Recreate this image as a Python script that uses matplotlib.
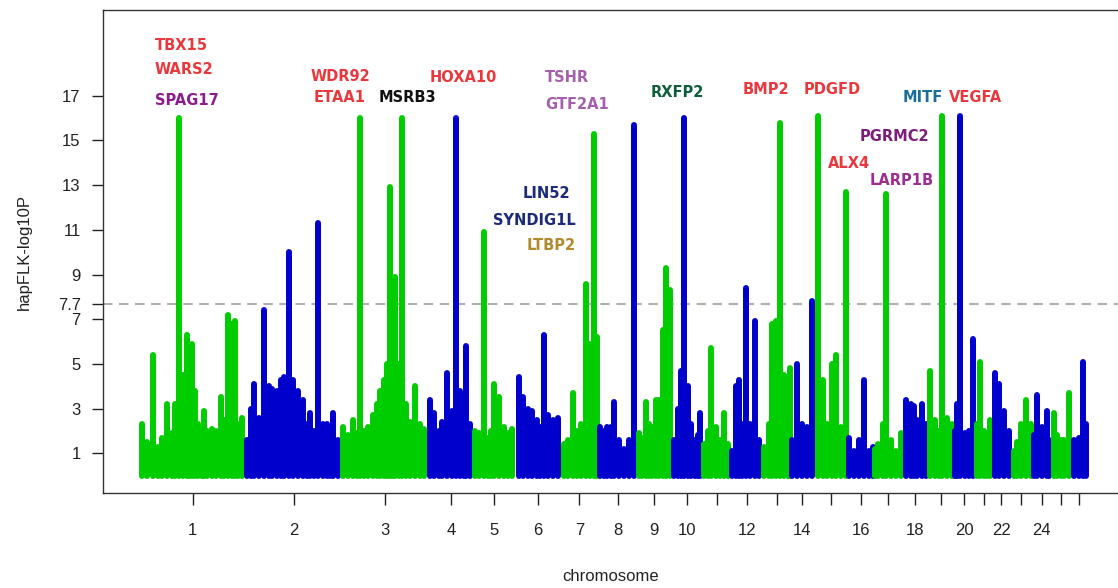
import numpy as np
import matplotlib.pyplot as plt

# chromosome sizes (Mb) as laid out along the x axis
chrom_len = [273, 252, 223, 117, 109, 117, 99, 99, 91, 80, 73, 83, 73,
             60, 88, 67, 75, 67, 65, 57, 44, 47, 57, 47, 52, 44]
chrom_names = [str(i) for i in range(1, 27)]
tick_text = ['1', '2', '3', '4', '5', '6', '7', '8', '9', '10', '', '12', '',
             '14', '', '16', '', '18', '', '20', '', '22', '', '24', '', '']

# envelope of -log10P values per chromosome: position inside chromosome (Mb) and value
peak_pos = [
    [4, 17, 33, 47, 58, 71, 82, 91, 102, 112, 121, 128, 136, 143, 151, 160, 166, 175,
     186, 197, 209, 218, 228, 238, 246, 255, 266],
    [4, 15, 23, 35, 50, 61, 69, 82, 93, 102, 115, 125, 137, 149, 160, 169, 179, 190,
     202, 212, 220, 229, 242],
    [3, 16, 29, 38, 47, 57, 68, 80, 90, 99, 107, 116, 123, 132, 138, 146, 155, 166,
     177, 190, 201, 213],
    [5, 16, 27, 37, 50, 62, 73, 83, 92, 99, 109],
    [5, 16, 27, 38, 47, 55, 66, 79, 90, 101],
    [9, 20, 32, 43, 56, 65, 75, 86, 99, 110],
    [9, 21, 33, 43, 54, 67, 76, 86, 95],
    [5, 14, 23, 33, 40, 53, 66, 79, 92],
    [6, 15, 23, 33, 41, 49, 58, 67, 75, 86],
    [6, 16, 23, 32, 41, 49, 60, 67, 74],
    [3, 13, 23, 34, 44, 55, 66],
    [4, 13, 21, 30, 39, 50, 62, 73],
    [3, 16, 25, 34, 45, 55, 65, 71],
    [4, 17, 30, 43, 56],
    [11, 23, 35, 46, 57, 70, 83],
    [3, 16, 29, 41, 55, 64],
    [3, 10, 23, 33, 44, 57, 70],
    [8, 21, 30, 38, 51, 62],
    [5, 18, 27, 36, 48, 60],
    [4, 10, 18, 31, 40, 51],
    [4, 11, 22, 29, 38],
    [6, 16, 29, 42],
    [9, 17, 26, 39, 52],
    [4, 12, 25, 38, 44],
    [9, 17, 26, 35, 47],
    [9, 22, 33, 40],
]
peak_logp = [
    [2.3, 1.5, 5.4, 1.3, 1.7, 3.2, 1.9, 3.2, 16.0, 4.5, 6.3, 4.6, 5.9, 3.8, 2.3, 1.6, 2.9, 2.0,
     2.1, 2.0, 3.5, 2.5, 7.2, 6.8, 6.9, 2.3, 2.6],
    [1.6, 3.0, 4.1, 2.6, 7.4, 4.0, 3.9, 3.8, 4.3, 4.4, 10.0, 4.3, 3.8, 3.4, 2.3, 2.8, 2.0, 11.3,
     2.3, 2.3, 2.0, 2.8, 1.6],
    [2.2, 1.8, 2.5, 1.9, 16.0, 2.0, 2.2, 2.7, 3.2, 3.8, 4.3, 5.0, 12.9, 8.0, 8.9, 5.0, 16.0, 3.2,
     2.4, 4.0, 2.3, 2.1],
    [3.4, 2.8, 2.0, 2.4, 4.6, 2.9, 16.0, 3.8, 3.5, 5.8, 2.3],
    [2.0, 1.9, 10.9, 1.7, 2.0, 4.1, 3.5, 2.2, 1.9, 2.1],
    [4.4, 3.5, 3.0, 2.9, 2.5, 2.2, 6.3, 2.7, 2.5, 2.6],
    [1.4, 1.6, 3.7, 2.0, 2.3, 8.6, 5.9, 15.3, 6.2],
    [2.2, 2.0, 2.2, 2.2, 3.3, 1.6, 1.2, 1.6, 15.7],
    [1.9, 1.7, 3.3, 2.3, 2.2, 3.4, 3.4, 6.5, 9.3, 8.3],
    [1.6, 3.0, 4.7, 16.0, 4.0, 2.3, 1.6, 1.8, 2.8],
    [1.4, 2.0, 5.7, 2.2, 1.6, 2.8, 1.4],
    [1.1, 4.0, 4.3, 2.3, 8.4, 2.3, 6.9, 1.6],
    [1.3, 2.3, 6.8, 6.9, 15.8, 4.5, 2.3, 4.8],
    [1.6, 5.0, 2.3, 2.2, 7.8],
    [16.1, 4.3, 2.3, 5.0, 5.4, 2.2, 12.7],
    [1.7, 1.1, 1.6, 4.3, 1.1, 1.3],
    [1.2, 1.4, 2.3, 12.6, 1.6, 1.1, 1.9],
    [3.4, 3.2, 3.1, 2.5, 3.2, 2.3],
    [4.7, 2.5, 2.0, 16.1, 2.6, 2.3],
    [2.0, 3.2, 16.1, 1.9, 2.0, 6.1],
    [2.3, 5.1, 2.0, 1.8, 2.5],
    [4.6, 4.1, 2.9, 2.0],
    [1.1, 1.5, 2.3, 3.4, 2.3],
    [1.8, 3.6, 2.2, 2.9, 1.6],
    [2.8, 1.8, 1.6, 1.6, 3.7],
    [1.6, 1.7, 5.1, 2.3],
]
threshold = 7.7

# gene annotations: name, x (Mb, genome-wide), y (-log10P), colour
genes = [
    ('TBX15', 39, 19.27, '#e8383d'),
    ('WARS2', 39, 18.18, '#e8383d'),
    ('SPAG17', 39, 16.77, '#8e1b8e'),
    ('WDR92', 443, 17.88, '#e8383d'),
    ('ETAA1', 450, 16.94, '#e8383d'),
    ('MSRB3', 620, 16.94, '#111111'),
    ('HOXA10', 751, 17.84, '#e8383d'),
    ('TSHR', 1052, 17.84, '#a560ad'),
    ('GTF2A1', 1051, 16.59, '#a560ad'),
    ('LIN52', 994, 12.65, '#1b2a7a'),
    ('SYNDIG1L', 916, 11.44, '#1b2a7a'),
    ('LTBP2', 1004, 10.32, '#b38b2d'),
    ('RXFP2', 1325, 17.17, '#0d5e3c'),
    ('BMP2', 1564, 17.30, '#e8383d'),
    ('PDGFD', 1722, 17.30, '#e8383d'),
    ('MITF', 1980, 16.94, '#1a6e9a'),
    ('VEGFA', 2099, 16.94, '#e8383d'),
    ('PGRMC2', 1868, 15.16, '#7d1c7d'),
    ('ALX4', 1785, 13.99, '#e8383d'),
    ('LARP1B', 1894, 13.23, '#9b2e91'),
]

plt.rcParams['font.family'] = ['Liberation Sans', 'DejaVu Sans']

fig = plt.figure(figsize=(11.18, 5.88), dpi=100)
ax = fig.add_axes([0.0921, 0.161, 0.9079, 0.822])

starts = np.concatenate([[0], np.cumsum(chrom_len)[:-1]])
centers = starts + np.array(chrom_len) / 2.0

for i in range(len(chrom_len)):
    col = '#00cd00' if i % 2 == 0 else '#0000cd'
    x = starts[i] + np.array(peak_pos[i])
    ax.vlines(x, 0, peak_logp[i], colors=col, linewidth=4.3, capstyle='round', zorder=2)

ax.axhline(threshold, color='#b0b0b0', lw=1.5, ls=(0, (4.5, 3.2)), zorder=1)

for name, gx, gy, gc in genes:
    ax.text(gx, gy, name, color=gc, fontsize=10.5, fontweight='bold',
            family='DejaVu Sans', ha='left', va='center')

ax.set_xlim(-96, 2538)
ax.set_ylim(-0.79, 20.84)
ax.set_yticks([1, 3, 5, 7, 7.7, 9, 11, 13, 15, 17])
ax.set_yticklabels(['1', '3', '5', '7', '7.7', '9', '11', '13', '15', '17'])
ax.set_xticks(centers)
ax.set_xticklabels(tick_text)
ax.tick_params(axis='y', length=8, width=1, pad=8, labelsize=12, colors='#222222')
ax.tick_params(axis='x', length=8.5, width=1, pad=13, labelsize=12, colors='#222222')

for s in ['left', 'bottom', 'top']:
    ax.spines[s].set_linewidth(1.0)
    ax.spines[s].set_color('#333333')
ax.spines['right'].set_visible(False)

ax.set_xlabel('chromosome', fontsize=12, color='#222222')
ax.set_ylabel('hapFLK-log10P', fontsize=12, color='#222222')
ax.xaxis.set_label_coords(0.5, -0.173)
ax.xaxis.label.set_va('center')
ax.yaxis.set_label_coords(-0.077, 0.5)
ax.yaxis.label.set_va('center')

fig.savefig('out.png', dpi=100)
